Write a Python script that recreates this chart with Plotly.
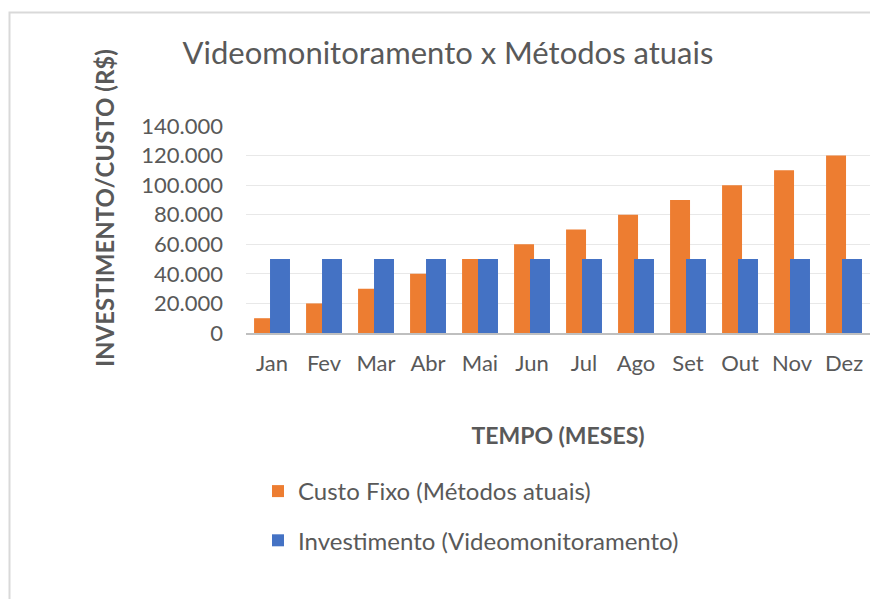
import plotly.graph_objects as go

months = ["Jan", "Fev", "Mar", "Abr", "Mai", "Jun", "Jul", "Ago", "Set", "Out", "Nov", "Dez"]
custo_fixo = [10000, 20000, 30000, 40000, 50000, 60000, 70000, 80000, 90000, 100000, 110000, 120000]
investimento = [50000] * 12
y_ticks = [0, 20000, 40000, 60000, 80000, 100000, 120000, 140000]
y_tick_labels = ["0", "20.000", "40.000", "60.000", "80.000", "100.000", "120.000", "140.000"]

TXT = "#595959"
FONT = "Lato"

# page body has an 8px margin on every side; keep the figure inside the window
OFF = 8
W, H = 878 - 2 * OFF, 607 - 2 * OFF

def fx(x):  # reference pixel x -> figure fraction
    return (x - OFF) / W

def fy(y):  # reference pixel y -> figure fraction (from bottom)
    return 1 - (y - OFF) / H

# chart-area frame (left and top edges), in figure pixels
frame_x = [1.5, 1.5, W]
frame_y = [0, H - 4.5, H - 4.5]

fig = go.Figure()
fig.add_trace(go.Bar(
    x=months, y=custo_fixo, name="Custo Fixo (Métodos atuais)",
    marker=dict(color="#ED7D31", line=dict(width=0)),
    width=0.384, offset=-0.345, legendgroup="a",
))
fig.add_trace(go.Bar(
    x=months, y=investimento, name="Investimento (Videomonitoramento)",
    marker=dict(color="#4472C4", line=dict(width=0)),
    width=0.384, offset=-0.038, legendgroup="b",
))
fig.add_trace(go.Scatter(
    x=frame_x, y=frame_y, mode="lines", xaxis="x2", yaxis="y2",
    line=dict(color="#D9D9D9", width=2), hoverinfo="skip", showlegend=False,
    cliponaxis=False,
))

fig.update_layout(
    width=W, height=H,
    margin=dict(l=0, r=0, t=0, b=0, autoexpand=False),
    paper_bgcolor="white", plot_bgcolor="rgba(0,0,0,0)",
    barmode="overlay",
    font=dict(family=FONT, color=TXT),
    title=dict(
        text="Videomonitoramento x Métodos atuais",
        font=dict(family=FONT, size=31, color=TXT),
        x=fx(448), xanchor="center", y=fy(53), yanchor="middle",
    ),
    xaxis=dict(
        domain=[fx(246), 1], anchor="y",
        type="category", showgrid=False, showline=True, linecolor="#BFBFBF", linewidth=2,
        tickfont=dict(size=22, color=TXT), ticklabelstandoff=10,
        title=dict(text="<b>TEMPO (MESES)</b>", font=dict(size=23, color=TXT), standoff=52),
    ),
    yaxis=dict(
        domain=[fy(333), fy(126)], anchor="x",
        range=[0, 140000], tickvals=y_ticks, ticktext=y_tick_labels,
        showgrid=True, gridcolor="#E8E8E8", gridwidth=1, zeroline=False, showline=False,
        tickfont=dict(size=22, color=TXT), ticklabelstandoff=22,
    ),
    xaxis2=dict(domain=[0, 1], anchor="y2", range=[0, W], visible=False, fixedrange=True),
    yaxis2=dict(domain=[0, 1], anchor="x2", range=[0, H], visible=False, fixedrange=True),
    legend=dict(
        x=fx(258), y=fy(469), xanchor="left", yanchor="top",
        font=dict(size=24, color=TXT), traceorder="grouped", tracegroupgap=15,
        bgcolor="rgba(0,0,0,0)",
    ),
    annotations=[
        dict(text="<b>INVESTIMENTO/CUSTO (R$)</b>", textangle=-90, showarrow=False,
             xref="paper", yref="paper", x=fx(104), y=fy(208),
             xanchor="center", yanchor="middle", font=dict(size=24, color=TXT)),
    ],
)

fig.write_html("out.html")
